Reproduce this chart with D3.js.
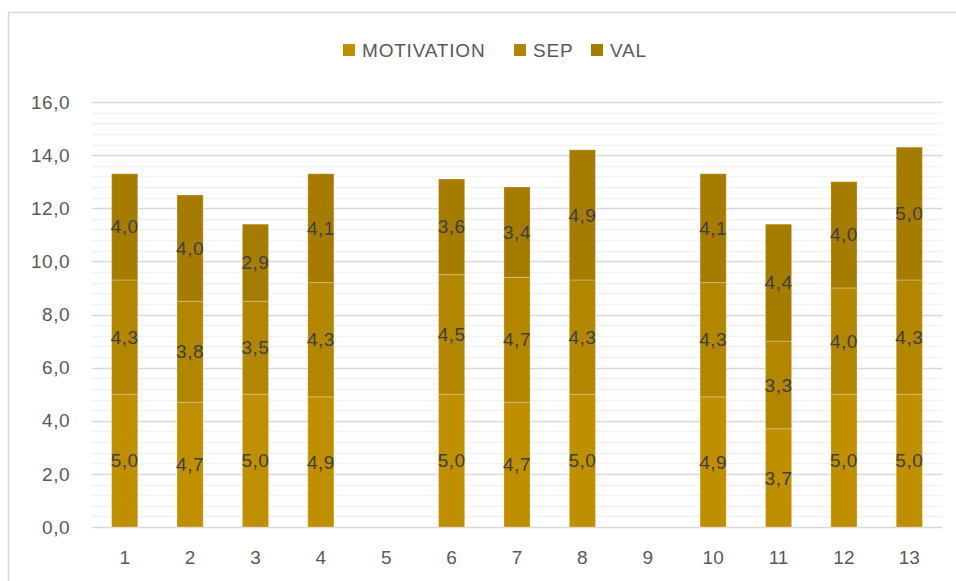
<!DOCTYPE html>
<html>
<head>
<meta charset="utf-8">
<script src="https://cdn.jsdelivr.net/npm/d3@7"></script>
<style>
body { margin: 0; background: #fff; }
svg text { font-family: "Liberation Sans", Arial, sans-serif; }
</style>
</head>
<body>
<svg width="956" height="581"></svg>
<script>
// dati
var categories = ["1","2","3","4","5","6","7","8","9","10","11","12","13"];
var seriesNames = ["MOTIVATION","SEP","VAL"];
var motivation = [5.0, 4.7, 5.0, 4.9, null, 5.0, 4.7, 5.0, null, 4.9, 3.7, 5.0, 5.0];
var sep        = [4.3, 3.8, 3.5, 4.3, null, 4.5, 4.7, 4.3, null, 4.3, 3.3, 4.0, 4.3];
var val        = [4.0, 4.0, 2.9, 4.1, null, 3.6, 3.4, 4.9, null, 4.1, 4.4, 4.0, 5.0];
var yTicks = [0, 2, 4, 6, 8, 10, 12, 14, 16];
var colors = ["#bf8f00", "#b38600", "#a67c00"];

var svg = d3.select("svg"),
    width = +svg.attr("width"),
    height = +svg.attr("height");

var margin = {left: 92, right: 14, top: 102, bottom: 54};

// bordo del grafico
svg.append("rect")
  .attr("x", 8.5).attr("y", 12.5)
  .attr("width", 960).attr("height", 600)
  .attr("fill", "none")
  .attr("stroke", "#d9d9d9")
  .attr("stroke-width", 1.5);

var x = d3.scaleBand()
  .domain(categories)
  .range([margin.left, width - margin.right])
  .paddingInner(0.6)
  .paddingOuter(0.3);

var y = d3.scaleLinear()
  .domain([0, 16])
  .range([height - margin.bottom, margin.top]);

// griglia minore ogni 0,4
var minor = d3.range(0, 16.01, 0.4).filter(function(v) { return Math.abs(v / 2 - Math.round(v / 2)) > 0.01; });
svg.append("g").selectAll("line")
  .data(minor).enter().append("line")
  .attr("x1", margin.left).attr("x2", width - margin.right)
  .attr("y1", function(d) { return Math.round(y(d)) + 0.5; })
  .attr("y2", function(d) { return Math.round(y(d)) + 0.5; })
  .attr("stroke", "#f2f2f2").attr("stroke-width", 1.5);

// griglia maggiore
svg.append("g").selectAll("line")
  .data(yTicks).enter().append("line")
  .attr("x1", margin.left).attr("x2", width - margin.right)
  .attr("y1", function(d) { return Math.round(y(d)) + 0.5; })
  .attr("y2", function(d) { return Math.round(y(d)) + 0.5; })
  .attr("stroke", "#d9d9d9").attr("stroke-width", 1.5);

// etichette asse y
var fmt = function(v) { return v.toFixed(1).replace(".", ","); };
svg.append("g").selectAll("text")
  .data(yTicks).enter().append("text")
  .attr("x", 70)
  .attr("y", function(d) { return y(d); })
  .attr("dy", "0.35em")
  .attr("text-anchor", "end")
  .attr("font-size", 19)
  .attr("letter-spacing", 0.5)
  .attr("fill", "#595959")
  .text(fmt);

// etichette asse x
svg.append("g").selectAll("text")
  .data(categories).enter().append("text")
  .attr("x", function(d) { return x(d) + x.bandwidth() / 2; })
  .attr("y", 557)
  .attr("dy", "0.35em")
  .attr("text-anchor", "middle")
  .attr("font-size", 19)
  .attr("fill", "#595959")
  .text(function(d) { return d; });

// stack dei dati
var rows = categories.map(function(c, i) {
  return {cat: c, MOTIVATION: motivation[i] || 0, SEP: sep[i] || 0, VAL: val[i] || 0, empty: motivation[i] == null};
});
var stack = d3.stack().keys(seriesNames)(rows);

var layers = svg.append("g").selectAll("g")
  .data(stack).enter().append("g")
  .attr("fill", function(d, i) { return colors[i]; });

layers.selectAll("rect")
  .data(function(d) { return d.filter(function(s) { return !s.data.empty; }); })
  .enter().append("rect")
  .attr("x", function(d) { return x(d.data.cat); })
  .attr("y", function(d) { return y(d[1]); })
  .attr("width", x.bandwidth())
  .attr("height", function(d) { return y(d[0]) - y(d[1]); })
  .attr("stroke", "#fff")
  .attr("stroke-opacity", 0.25)
  .attr("stroke-width", 1);

layers.selectAll("text")
  .data(function(d) { return d.filter(function(s) { return !s.data.empty; }); })
  .enter().append("text")
  .attr("x", function(d) { return x(d.data.cat) + x.bandwidth() / 2; })
  .attr("y", function(d) { return y((d[0] + d[1]) / 2); })
  .attr("dy", "0.35em")
  .attr("text-anchor", "middle")
  .attr("font-size", 19)
  .attr("letter-spacing", 0.5)
  .attr("fill", "#404040")
  .text(function(d) { return fmt(d[1] - d[0]); });

// legenda
var legendX = [343, 514, 591];
var legend = svg.append("g").selectAll("g")
  .data(seriesNames).enter().append("g")
  .attr("transform", function(d, i) { return "translate(" + legendX[i] + ",50)"; });
legend.append("rect")
  .attr("x", 0).attr("y", -6)
  .attr("width", 12).attr("height", 12)
  .attr("fill", function(d, i) { return colors[i]; });
legend.append("text")
  .attr("x", 19).attr("y", 0)
  .attr("dy", "0.35em")
  .attr("font-size", 19)
  .attr("letter-spacing", 0.8)
  .attr("fill", "#595959")
  .text(function(d) { return d; });
</script>
</body>
</html>
